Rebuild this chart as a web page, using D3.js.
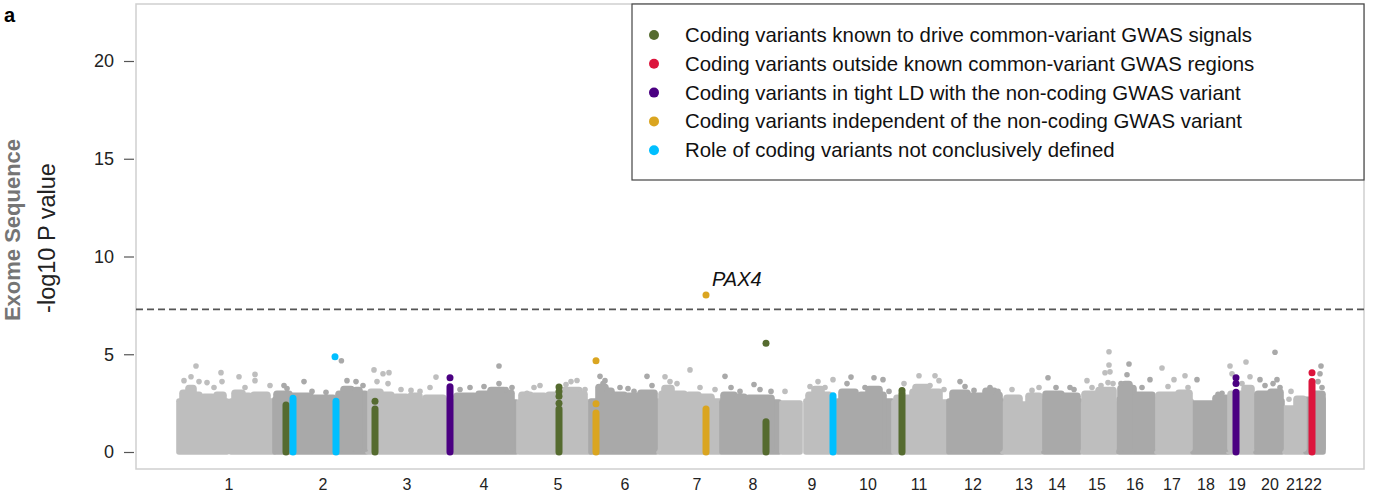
<!DOCTYPE html>
<html><head><meta charset="utf-8">
<script src="https://cdn.jsdelivr.net/npm/d3@7"></script>
<style>
body{margin:0;background:#fff;}
svg{display:block;font-family:"Liberation Sans",Arial,Helvetica,sans-serif;}
</style>
</head><body>
<svg id="chart" width="1381" height="493"></svg>
<script>
// ---------------- DATA (genome position in cumulative Mb, value = -log10 P) ----------------
const chromosomes = ["1","2","3","4","5","6","7","8","9","10","11","12","13","14","15","16","17","18","19","20","21","22"];
const chrLabelPos = [125,360,570,762.5,947.5,1115,1295,1435,1582.5,1722.5,1850,1985,2112.5,2195,2295,2390,2482.5,2567.5,2645,2727.5,2790,2835];
const yTicks = [0,5,10,15,20];
const threshold = 7.3;

// dense bulk of variants: [chromosome, start, end, top value]
const bulkBands = [
  [1,0,120,2.6],[1,130,237.5,2.6],[2,240,467.5,2.7],[3,472.5,667.5,2.6],[4,677.5,842.5,2.55],
  [5,850,1027.5,2.55],[6,1030,1192.5,2.6],[7,1200,1352.5,2.6],[8,1357.5,1500,2.55],
  [9,1507.5,1552.5,2.5],[9,1567.5,1645,2.6],[10,1650,1782.5,2.6],[11,1787.5,1920,2.55],
  [12,1925,2057.5,2.6],[13,2060,2155,2.45],[14,2162.5,2252.5,2.6],[15,2260,2342.5,2.45],
  [16,2350,2440,2.7],[17,2445,2530,2.6],[18,2535,2622.5,2.5],[19,2625,2687.5,2.7],
  [20,2692.5,2757.5,2.6],[21,2765,2812.5,2.25],[22,2817.5,2860,2.7]
];
// denser clusters rising above the bulk: [chromosome, start, end, top value]
const bulkClusters = [
  [1,7.5,30,3.05],[1,35,52.5,2.95],[1,60,85,2.85],[1,92.5,112.5,2.95],[1,22.5,37.5,3.3],[1,137.5,160,3.05],[1,165,177.5,2.9],[1,185,222.5,2.95],
  [2,242.5,277.5,3.0],[2,282.5,330,2.9],[2,335,387.5,2.8],[2,397.5,467.5,3.0],[2,410,432.5,3.25],[2,440,452.5,3.2],
  [3,477.5,505,3.1],[3,510,532.5,2.95],[3,540,570,2.85],[3,577.5,602.5,2.9],[3,615,662.5,2.8],
  [4,692.5,740,2.9],[4,747.5,775,3.0],[4,777.5,815,3.2],[4,820,832.5,3.05],
  [5,855,880,2.95],[5,885,915,2.9],[5,922.5,955,2.95],[5,960,1002.5,3.2],[5,1005,1015,3.0],
  [6,1047.5,1067.5,3.35],[6,1070,1082.5,3.15],[6,1087.5,1115,2.95],[6,1120,1152.5,2.9],[6,1152.5,1190,3.05],
  [7,1205,1265,3.0],[7,1272.5,1300,2.95],[7,1305,1332.5,2.85],[7,1212.5,1232.5,3.3],
  [8,1360,1390,2.95],[8,1395,1415,2.85],[8,1422.5,1482.5,2.8],
  [9,1572.5,1627.5,2.95],[9,1587.5,1607.5,3.25],
  [10,1655,1692.5,3.1],[10,1702.5,1762.5,2.95],[10,1722.5,1752.5,3.25],
  [11,1792.5,1832.5,2.8],[11,1832.5,1902.5,3.1],[11,1840,1872.5,3.35],
  [12,1932.5,1972.5,3.05],[12,1977.5,2010,2.9],[12,2015,2040,3.15],[12,2042.5,2052.5,2.95],
  [13,2067.5,2102.5,2.8],[13,2122.5,2152.5,2.9],
  [14,2165,2207.5,3.0],[14,2212.5,2247.5,2.9],
  [15,2262.5,2292.5,3.0],[15,2297.5,2337.5,3.2],
  [16,2352.5,2387.5,3.3],[16,2392.5,2435,2.95],[16,2362.5,2377.5,3.5],
  [17,2447.5,2497.5,2.95],[17,2497.5,2527.5,3.05],
  [18,2590,2620,2.8],
  [19,2627.5,2682.5,3.0],[19,2662.5,2682.5,3.3],
  [20,2695,2727.5,3.0],[20,2727.5,2755,3.1],
  [21,2792.5,2812.5,2.75],
  [22,2837.5,2860,3.0]
];
// individual grey variants above the bulk: [chromosome, position, value]
const greyPoints = [
  [1,42.5,4.4],[1,30,3.85],[1,12.5,3.65],[1,50,3.6],[1,70,3.55],[1,105,4.06],[1,107.5,3.6],[1,150,3.85],[1,190,3.97],[1,190,3.65],[1,227.5,3.4],[1,165,3.3],[1,87.5,3.3],
  [2,262.5,3.4],[2,270,3.25],[2,312.5,3.6],[2,406,4.67],[2,420,3.65],[2,442.5,3.6],[2,460,3.4],[2,332.5,3.1],[2,367.5,3.05],
  [3,487.5,4.2],[3,510,4.0],[3,525,4.06],[3,522.5,3.5],[3,642.5,3.83],[3,602.5,3.1],[3,495,3.6],[3,555,3.2],[3,580,3.15],[3,627.5,3.3],
  [4,800,4.4],[4,800,3.5],[4,817.5,3.2],[4,702.5,3.2],[4,727.5,3.3],[4,762.5,3.35],[4,832.5,3.3],
  [5,887.5,3.3],[5,995,3.66],[5,967.5,3.45],[5,870,3.0],[5,902.5,3.4],[5,1015,3.2],[5,980,3.6],
  [6,1052.5,3.87],[6,1065,3.65],[6,1060,3.5],[6,1170,3.87],[6,1137.5,3.1],[6,1102.5,3.3],[6,1122.5,3.25],[6,1182.5,3.4],
  [7,1277.5,4.2],[7,1215,3.85],[7,1245,3.5],[7,1227.5,3.6],[7,1302.5,3.3],[7,1340,3.2],
  [8,1365,3.87],[8,1437.5,3.45],[8,1480,3.1],[8,1380,3.3],[8,1402.5,3.1],[8,1452.5,3.2],
  [9,1515,3.1],[9,1597.5,3.6],[9,1635,3.7],[9,1615,3.3],[9,1577.5,3.35],
  [10,1680,3.83],[10,1737.5,3.8],[10,1760,3.7],[10,1775,3.1],[10,1670,3.5],[10,1715,3.3],
  [11,1850,3.9],[11,1812.5,3.5],[11,1900,3.65],[11,1890,3.9],[11,1877.5,3.4],[11,1912.5,3.2],
  [12,1952.5,3.6],[12,1987.5,3.15],[12,2027.5,3.3],[12,1965,3.35],[12,2047.5,3.1],
  [13,2150,3.3],[13,2082.5,3.2],[13,2132.5,3.15],
  [14,2172.5,3.8],[14,2237.5,3.2],[14,2192.5,3.3],[14,2227.5,3.3],
  [15,2325,5.13],[15,2325,4.45],[15,2315,4.05],[15,2327.5,4.1],[15,2322.5,3.55],[15,2270,3.65],[15,2335,3.5],[15,2305,3.4],[15,2282.5,3.3],
  [16,2375,4.5],[16,2370,3.95],[16,2427.5,3.7],[16,2407.5,3.3],[16,2355,3.5],
  [17,2457.5,4.3],[17,2487.5,3.7],[17,2515,3.9],[17,2472.5,3.35],[17,2522.5,3.3],
  [18,2545,3.7],[18,2607.5,3.0],[18,2597.5,2.95],
  [19,2627.5,4.4],[19,2667.5,4.6],[19,2632.5,4.0],[19,2677.5,3.85],[19,2657.5,3.5],
  [20,2740,5.1],[20,2702.5,3.7],[20,2745,3.7],[20,2715,3.4],[20,2735,3.5],[20,2752.5,3.3],
  [21,2780,3.1],[21,2775,2.7],
  [22,2855,4.4],[22,2852.5,4.0],[22,2847.5,3.6],[22,2857.5,3.3]
];

// categories of highlighted coding variants
const categoryLabels = [
  "Coding variants known to drive common-variant GWAS signals",
  "Coding variants outside known common-variant GWAS regions",
  "Coding variants in tight LD with the non-coding GWAS variant",
  "Coding variants independent of the non-coding GWAS variant",
  "Role of coding variants not conclusively defined"
];
const categoryColors = ["#556b2f","#dc143c","#4b0082","#daa520","#00bfff"];
// stacked variant columns (from 0 up to top value): [category index, position, top value]
const variantColumns = [
  [0,267.5,2.4],[4,285,2.75],[4,392.5,2.6],[0,490,2.2],[2,677.5,3.34],[0,950,2.2],
  [3,1042.5,2.0],[3,1317.5,2.2],[0,1467.5,1.55],[4,1635,2.88],[0,1807.5,3.0],
  [2,2642.5,3.05],[1,2832.5,3.6]
];
// separate highlighted variants: [category index, position, value]
const variantPoints = [
  [4,390,4.87],[0,490,2.6],[2,677.5,3.8],[0,950,2.5],[0,950,2.85],[0,950,3.1],[0,950,3.33],
  [3,1042.5,2.47],[3,1042.5,4.67],[3,1317.5,8.03],[0,1467.5,5.56],[0,1807.5,3.15],
  [2,2642.5,3.5],[2,2642.5,3.8],[1,2832.5,4.06]
];
const geneLabels = [["PAX4",1317.5,8.03]];

// ---------------- LAYOUT ----------------
const frame = {left:136, right:1364, top:4, bottom:469};
const svg = d3.select("#chart");

const x = d3.scaleLinear().domain([-107.5, 2962.5]).range([frame.left, frame.right]);
const y = d3.scaleLinear().domain([0, 20]).range([452, 61]);

const light = "#bebebe", dark = "#a9a9a9";
const chrColor = c => (c % 2 === 1) ? light : dark;

// frame
svg.append("rect").attr("x",frame.left).attr("y",frame.top)
  .attr("width",frame.right-frame.left).attr("height",frame.bottom-frame.top)
  .attr("fill","none").attr("stroke","#cfcfcf").attr("stroke-width",1.5);

// y axis
const yAxis = d3.axisLeft(y).tickValues(yTicks).tickSize(10).tickPadding(10);
const gy = svg.append("g").attr("transform",`translate(${frame.left-2},0)`).call(yAxis);
gy.select(".domain").remove();
gy.selectAll(".tick line").attr("stroke","#555").attr("stroke-width",1.2);
gy.selectAll(".tick text").attr("font-size",18).attr("fill","#222")
  .attr("font-family","'Liberation Sans',Arial,sans-serif");

// x chromosome labels
svg.append("g").selectAll("text").data(chromosomes).join("text")
  .attr("x",(d,i)=>x(chrLabelPos[i])).attr("y",490)
  .attr("text-anchor","middle").attr("font-size",16).attr("fill","#222")
  .text(d=>d);

// y titles
svg.append("text").attr("transform","translate(20,230) rotate(-90)")
  .attr("text-anchor","middle").attr("font-size",22).attr("font-weight","bold").attr("fill","#757575")
  .text("Exome Sequence");
svg.append("text").attr("transform","translate(55,238) rotate(-90)")
  .attr("text-anchor","middle").attr("font-size",23.5).attr("fill","#222")
  .text("-log10 P value");

// panel letter
svg.append("text").attr("x",4).attr("y",22).attr("font-size",20).attr("font-weight","bold").text("a");

const r = 2.8;
const gBulk = svg.append("g");
gBulk.selectAll("rect.band").data(bulkBands).join("rect").attr("class","band")
  .attr("x",d=>x(d[1])-r).attr("width",d=>x(d[2])-x(d[1])+2*r)
  .attr("y",d=>y(d[3])-r).attr("height",d=>y(0)-y(d[3])+2*r)
  .attr("rx",r).attr("fill",d=>chrColor(d[0]));
gBulk.selectAll("rect.cl").data(bulkClusters).join("rect").attr("class","cl")
  .attr("x",d=>x(d[1])-r).attr("width",d=>x(d[2])-x(d[1])+2*r)
  .attr("y",d=>y(d[3])-r).attr("height",d=>y(0)-y(d[3])+r)
  .attr("rx",r+1).attr("fill",d=>chrColor(d[0]));
gBulk.selectAll("circle").data(greyPoints).join("circle")
  .attr("cx",d=>x(d[1])).attr("cy",d=>y(d[2])).attr("r",r)
  .attr("fill",d=>chrColor(d[0]));

// threshold line
svg.append("line").attr("x1",frame.left).attr("x2",frame.right)
  .attr("y1",y(threshold)).attr("y2",y(threshold))
  .attr("stroke","#555").attr("stroke-width",1.8).attr("stroke-dasharray","7,4");

// highlighted variants
const gVar = svg.append("g");
gVar.selectAll("line").data(variantColumns).join("line")
  .attr("x1",d=>x(d[1])).attr("x2",d=>x(d[1]))
  .attr("y1",y(0)).attr("y2",d=>y(d[2]))
  .attr("stroke",d=>categoryColors[d[0]]).attr("stroke-width",7).attr("stroke-linecap","round");
gVar.selectAll("circle").data(variantPoints).join("circle")
  .attr("cx",d=>x(d[1])).attr("cy",d=>y(d[2])).attr("r",3.5)
  .attr("fill",d=>categoryColors[d[0]]);

svg.selectAll("text.gene").data(geneLabels).join("text").attr("class","gene")
  .attr("x",d=>x(d[1])+6).attr("y",d=>y(d[2])-9)
  .attr("font-size",20).attr("font-style","italic").attr("fill","#111")
  .text(d=>d[0]);

// legend
const leg = {x:632, y:4, w:732, h:176};
svg.append("rect").attr("x",leg.x).attr("y",leg.y).attr("width",leg.w).attr("height",leg.h)
  .attr("fill","#fff").attr("stroke","#444").attr("stroke-width",1.2);
const li = svg.append("g").selectAll("g").data(categoryLabels).join("g")
  .attr("transform",(d,i)=>`translate(0,${35+i*28.8})`);
li.append("circle").attr("cx",654).attr("cy",0).attr("r",5).attr("fill",(d,i)=>categoryColors[i]);
li.append("text").attr("x",685).attr("y",7).attr("font-size",20.4).attr("fill","#111").text(d=>d);
</script>
</body></html>
